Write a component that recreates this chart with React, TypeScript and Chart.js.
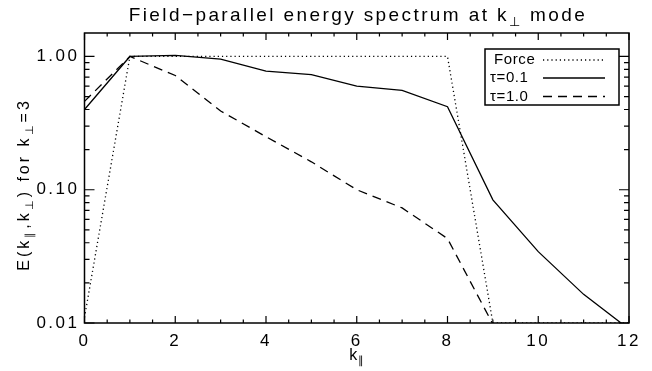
import { useEffect, useRef } from 'react';
import { Chart, registerables } from 'chart.js';

Chart.register(...registerables);

const FONT = '"Liberation Sans", Arial, sans-serif';

// k_parallel values
const kPar = [0, 1, 2, 3, 4, 5, 6, 7, 8, 9, 10, 11, 12];
// spectra
const forceSpec = [0.011, 1, 1, 1, 1, 1, 1, 1, 1, 0.01, 0.01, 0.01, 0.01];
const tau01Spec = [0.40, 1.0, 1.02, 0.955, 0.775, 0.73, 0.60, 0.557, 0.42, 0.084, 0.0343, 0.0164, 0.009];
const tau10Spec = [0.46, 1.0, 0.72, 0.39, 0.25, 0.162, 0.10, 0.073, 0.043, 0.0098, null, null, null];

const seriesLabels = ['Force', 'τ=0.1', 'τ=1.0'];

// axis ticks
const xTickValues = [0, 2, 4, 6, 8, 10, 12];
const xTickLabels = ['0', '2', '4', '6', '8', '10', '12'];
const yTickValues = [0.01, 0.1, 1];
const yTickLabels = ['0.01', '0.10', '1.00'];

type Seg = { t: string; sub?: boolean };
const titleSegs: Seg[] = [{ t: 'Field−parallel energy spectrum at k' }, { t: '⊥', sub: true }, { t: ' mode' }];
const yTitleSegs: Seg[] = [
  { t: 'E(k' }, { t: '∥', sub: true }, { t: ',k' }, { t: '⊥', sub: true },
  { t: ') for k' }, { t: '⊥', sub: true }, { t: '=3' },
];
const xTitleSegs: Seg[] = [{ t: 'k' }, { t: '∥', sub: true }];

function drawRich(ctx: CanvasRenderingContext2D, segs: Seg[], x: number, y: number, size: number, spacing: number, align: 'left' | 'center') {
  const main = `${size}px ${FONT}`;
  const sub = `${Math.round(size * 0.7)}px ${FONT}`;
  (ctx as any).letterSpacing = `${spacing}px`;
  ctx.textAlign = 'left';
  ctx.textBaseline = 'alphabetic';
  let w = 0;
  for (const s of segs) {
    ctx.font = s.sub ? sub : main;
    w += ctx.measureText(s.t).width;
  }
  w -= spacing;
  let cx = align === 'center' ? x - w / 2 : x;
  for (const s of segs) {
    ctx.font = s.sub ? sub : main;
    ctx.fillText(s.t, cx, s.sub ? y + size * 0.28 : y);
    cx += ctx.measureText(s.t).width;
  }
}

const framePlugin = {
  id: 'idlFrame',
  beforeDraw(chart: any) {
    (chart.ctx as any).letterSpacing = '2.5px';
  },
  afterDraw(chart: any) {
    const ctx: CanvasRenderingContext2D = chart.ctx;
    const { left, right, top, bottom } = chart.chartArea;
    const xs = chart.scales.x;
    const ys = chart.scales.y;
    ctx.save();
    ctx.strokeStyle = '#000';
    ctx.fillStyle = '#000';
    ctx.lineWidth = 1.5;
    ctx.setLineDash([]);
    ctx.strokeRect(left, top, right - left, bottom - top);
    ctx.lineWidth = 1.2;
    ctx.beginPath();
    for (let v = xs.min; v <= xs.max + 1e-9; v += 0.5) {
      const px = xs.getPixelForValue(v);
      const len = Math.abs(v % 2) < 1e-9 ? 7 : 3.5;
      ctx.moveTo(px, bottom);
      ctx.lineTo(px, bottom - len);
      ctx.moveTo(px, top);
      ctx.lineTo(px, top + len);
    }
    for (const d of yTickValues) {
      for (let m = 1; m <= 9; m++) {
        const v = d * m;
        if (v > ys.max * 1.0001 || v < ys.min * 0.9999) continue;
        const py = ys.getPixelForValue(v);
        const len = m === 1 ? 10 : 5;
        ctx.moveTo(left, py);
        ctx.lineTo(left + len, py);
        ctx.moveTo(right, py);
        ctx.lineTo(right - len, py);
      }
    }
    ctx.stroke();

    // titles
    drawRich(ctx, titleSegs, (left + right) / 2, 21, 19, 2.4, 'center');
    drawRich(ctx, xTitleSegs, (left + right) / 2, 360, 16, 1, 'center');
    ctx.save();
    ctx.translate(29, (top + bottom) / 2 + 8);
    ctx.rotate(-Math.PI / 2);
    drawRich(ctx, yTitleSegs, 0, 0, 16, 3, 'center');
    ctx.restore();

    // legend
    const bx = right - 144, by = top + 16, bw = 134, bh = 56;
    ctx.lineWidth = 1.5;
    ctx.setLineDash([]);
    ctx.strokeRect(bx, by, bw, bh);
    const rowY = [by + 11, by + 29, by + 47.5];
    chart.data.datasets.forEach((ds: any, i: number) => {
      (ctx as any).letterSpacing = '0.6px';
      ctx.font = `15px ${FONT}`;
      ctx.textAlign = 'left';
      ctx.textBaseline = 'middle';
      ctx.fillStyle = '#000';
      ctx.fillText(ds.label, bx + (i === 0 ? 9 : 5), rowY[i]);
      ctx.beginPath();
      ctx.lineWidth = ds.borderWidth;
      ctx.setLineDash(ds.borderDash || []);
      ctx.moveTo(bx + 58, rowY[i]);
      ctx.lineTo(bx + 120, rowY[i]);
      ctx.stroke();
    });
    ctx.restore();
  },
};

export default function App() {
  const ref = useRef<HTMLCanvasElement>(null);
  useEffect(() => {
    if (!ref.current) return;
    const mk = (arr: (number | null)[]) => kPar.map((k, i) => ({ x: k, y: arr[i] }));
    const chart = new Chart(ref.current, {
      type: 'line',
      data: {
        datasets: [
          { label: seriesLabels[0], data: mk(forceSpec) as any, borderColor: '#000', borderWidth: 1.3, borderDash: [1.2, 3], pointRadius: 0, fill: false, tension: 0 },
          { label: seriesLabels[1], data: mk(tau01Spec) as any, borderColor: '#000', borderWidth: 1.3, borderDash: [], pointRadius: 0, fill: false, tension: 0 },
          { label: seriesLabels[2], data: mk(tau10Spec) as any, borderColor: '#000', borderWidth: 1.3, borderDash: [9, 6], pointRadius: 0, fill: false, tension: 0 },
        ],
      },
      options: {
        animation: false,
        responsive: false,
        events: [],
        layout: { padding: { top: 33, right: 23, left: 0, bottom: 0 } },
        plugins: { legend: { display: false }, title: { display: false }, tooltip: { enabled: false } },
        scales: {
          x: {
            type: 'linear',
            min: 0,
            max: 12,
            grid: { display: false, drawTicks: false },
            border: { display: false },
            afterBuildTicks: (s: any) => { s.ticks = xTickValues.map((v) => ({ value: v })); },
            afterFit: (s: any) => { s.height = 48; },
            ticks: {
              padding: 8,
              color: '#000',
              font: { family: FONT, size: 17 },
              maxRotation: 0,
              autoSkip: false,
              callback: (v: any) => xTickLabels[xTickValues.indexOf(Number(v))] ?? '',
            },
          },
          y: {
            type: 'logarithmic',
            min: 0.01,
            max: 1.5,
            grid: { display: false, drawTicks: false },
            border: { display: false },
            afterBuildTicks: (s: any) => { s.ticks = yTickValues.map((v) => ({ value: v })); },
            afterFit: (s: any) => { s.width = 84.5; },
            ticks: {
              padding: 5,
              color: '#000',
              font: { family: FONT, size: 17 },
              autoSkip: false,
              callback: (v: any) => {
                const i = yTickValues.findIndex((t) => Math.abs(t - Number(v)) < 1e-9);
                return i >= 0 ? yTickLabels[i] : '';
              },
            },
          },
        },
      },
      plugins: [framePlugin],
    });
    return () => chart.destroy();
  }, []);
  return (
    <div style={{ position: 'absolute', left: 0, top: 0, width: 652, height: 371, background: '#fff' }}>
      <canvas ref={ref} width={652} height={371} />
    </div>
  );
}
